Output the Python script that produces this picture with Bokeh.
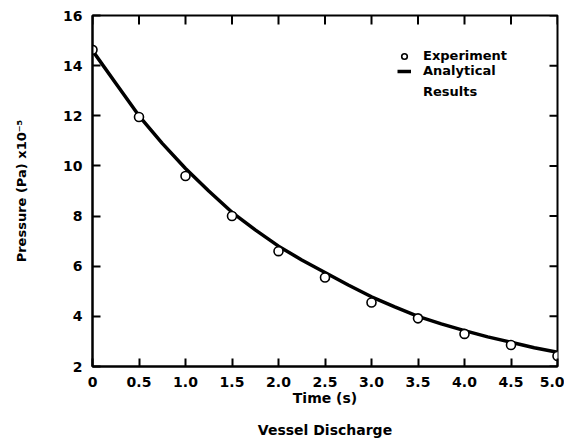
import math
from bokeh.plotting import figure
from bokeh.models import Range1d, LinearAxis, FixedTicker, Legend, LegendItem
from bokeh.embed import file_html
from bokeh.resources import INLINE

# Experiment (circles)
exp_time = [0.0, 0.5, 1.0, 1.5, 2.0, 2.5, 3.0, 3.5, 4.0, 4.5, 5.0]
exp_pressure = [14.63, 11.95, 9.6, 8.0, 6.6, 5.55, 4.55, 3.92, 3.3, 2.86, 2.42]

# Analytical results (curve)
ana_time = [0.0, 0.25, 0.5, 0.75, 1.0, 1.25, 1.5, 1.75, 2.0, 2.25, 2.5, 2.75,
            3.0, 3.25, 3.5, 3.75, 4.0, 4.25, 4.5, 4.75, 5.0]
ana_pressure = [14.6, 13.3, 12.0, 10.9, 9.9, 9.0, 8.15, 7.45, 6.8, 6.25, 5.75, 5.25,
                4.78, 4.38, 4.0, 3.7, 3.43, 3.18, 2.97, 2.75, 2.57]

x_ticks = [0, 0.5, 1.0, 1.5, 2.0, 2.5, 3.0, 3.5, 4.0, 4.5, 5.0]
x_tick_labels = ["0", "0.5", "1.0", "1.5", "2.0", "2.5", "3.0", "3.5", "4.0", "4.5", "5.0"]
y_ticks = [2, 4, 6, 8, 10, 12, 14, 16]

X_MIN, X_MAX = 0, 5
Y_MIN, Y_MAX = 2, 16

FONT = "DejaVu Sans"

p = figure(width=564, height=443, output_backend="svg", toolbar_location=None,
           x_range=Range1d(X_MIN, X_MAX), y_range=Range1d(Y_MIN, Y_MAX),
           x_axis_location=None, y_axis_location=None,
           min_border_left=92, min_border_right=7, min_border_top=15, min_border_bottom=77)
p.grid.visible = False
p.outline_line_color = "black"
p.outline_line_width = 2
p.background_fill_color = "white"
p.border_fill_color = "white"

def style_axis(ax, ticks):
    ax.ticker = FixedTicker(ticks=ticks)
    ax.axis_line_width = 2
    ax.axis_line_color = "black"
    ax.major_tick_in = 8
    ax.major_tick_out = 0
    ax.major_tick_line_width = 2
    ax.minor_tick_line_color = None
    ax.major_label_text_font = FONT
    ax.major_label_text_font_style = "bold"
    ax.major_label_text_font_size = "14px"
    ax.major_label_text_color = "black"
    ax.axis_label_text_font = FONT
    ax.axis_label_text_font_style = "bold"
    ax.axis_label_text_font_size = "14px"
    ax.axis_label_text_color = "black"

bottom = LinearAxis(axis_label="Time (s)\n\nVessel Discharge")
style_axis(bottom, x_ticks)
bottom.major_label_overrides = {t: l for t, l in zip(x_ticks, x_tick_labels)}
bottom.major_label_standoff = 10
bottom.axis_label_standoff = 0
bottom.axis_label_text_line_height = 1.0
p.add_layout(bottom, "below")

left = LinearAxis(axis_label="Pressure (Pa) x10\u207b\u2075")
style_axis(left, y_ticks)
left.axis_label_text_font_size = "13px"
left.major_label_standoff = 10
left.axis_label_standoff = 31
p.add_layout(left, "left")

# inward ticks on the top and right frame edges (half of each dash is clipped by the frame)
p.scatter(x_ticks, [Y_MAX] * len(x_ticks), marker="dash", size=18, angle=math.pi / 2,
          line_color="black", line_width=2)
p.scatter([X_MAX] * len(y_ticks), y_ticks, marker="dash", size=16,
          line_color="black", line_width=2)

line_r = p.line(ana_time, ana_pressure, line_color="black", line_width=3.5)
ghost_r = p.line(ana_time, ana_pressure, line_alpha=0)
pts_r = p.scatter(exp_time, exp_pressure, marker="circle", size=9,
                  fill_color="white", line_color="black", line_width=1.6)

legend_style = dict(border_line_color=None, background_fill_alpha=0,
                    label_text_font=FONT, label_text_font_style="bold",
                    label_text_font_size="13px", label_text_color="black",
                    glyph_width=14, glyph_height=14,
                    label_height=14, spacing=0, padding=0, margin=0, label_standoff=12)

legend = Legend(items=[LegendItem(label="Experiment", renderers=[pts_r]),
                       LegendItem(label="Analytical", renderers=[line_r])],
                location=(305, 288), **legend_style)
legend2 = Legend(items=[LegendItem(label="Results", renderers=[ghost_r])],
                 location=(305, 267), **legend_style)
p.add_layout(legend, "center")
p.add_layout(legend2, "center")

open("out.html", "w").write(file_html(p, INLINE))
